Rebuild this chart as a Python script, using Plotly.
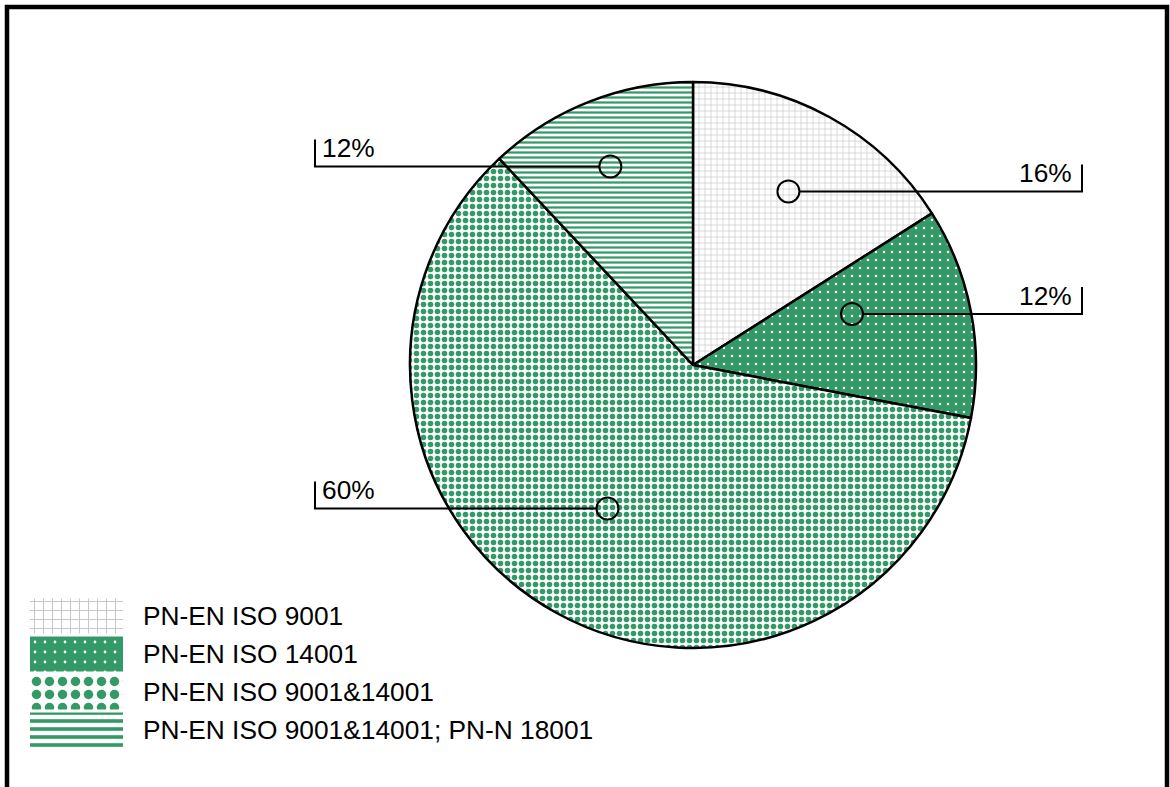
import math
import plotly.graph_objects as go

# ---------------- data ----------------
labels = ["PN-EN ISO 9001", "PN-EN ISO 14001", "PN-EN ISO 9001&14001",
          "PN-EN ISO 9001&14001; PN-N 18001"]
values = [16, 12, 60, 12]

# ---------------- style ----------------
W, H = 1170, 787
CX, CY, R = 693, 365, 283          # pie centre / radius in pixels
GREEN = "#339966"
FONT = "Arial, Liberation Sans, sans-serif"
FS = 26.3

pie_shape = ["+", ".", ".", "-"]
pie_fg = ["#c4c4c4", "#ffffff", GREEN, GREEN]
pie_bg = ["#ffffff", GREEN, "#ffffff", "#ffffff"]
pie_size = [6, 8, 7, 5]
pie_sol = [0.2, 0.08, 0.5, 0.45]

leg_size = [9, 10, 13, 8]
leg_sol = [0.2, 0.06, 0.42, 0.45]

anchor_r = [0.70, 0.59, 0.59, 0.76]
anchor_da = [0, -7, 2, -1]
LEFT_X, RIGHT_X, TICK_H, CIRC_R = 315, 1082, 27, 11


def px(x):
    return x / W


def py(y):
    return 1 - y / H


fig = go.Figure()

fig.add_trace(go.Pie(
    labels=labels, values=values, sort=False, direction="clockwise",
    rotation=0, textinfo="none", showlegend=False,
    domain=dict(x=[px(CX - R), px(CX + R)], y=[py(CY + R), py(CY - R)]),
    marker=dict(colors=pie_bg, line=dict(color="black", width=2.5),
                pattern=dict(shape=pie_shape, fgcolor=pie_fg, bgcolor=pie_bg,
                             size=pie_size, solidity=pie_sol, fillmode="replace")),
))

# legend swatches drawn as bars (one trace per entry)
for i, lab in enumerate(labels):
    fig.add_trace(go.Bar(
        y=[lab], x=[1], orientation="h", xaxis="x2", yaxis="y2",
        showlegend=False, hoverinfo="skip",
        marker=dict(color=pie_bg[i], line=dict(width=0),
                    pattern=dict(shape=pie_shape[i], fgcolor=pie_fg[i], bgcolor=pie_bg[i],
                                 size=leg_size[i], solidity=leg_sol[i], fillmode="replace")),
    ))

shapes = []
annotations = []

# frame
shapes.append(dict(type="rect", xref="paper", yref="paper",
                   x0=px(7), x1=px(1167), y0=py(810), y1=py(7),
                   line=dict(color="black", width=4.5), layer="above"))

total = sum(values)
cum = 0
for i, v in enumerate(values):
    mid = (cum + v / 2) / total * 360 + anchor_da[i]
    cum += v
    a = math.radians(mid)
    ax = CX + anchor_r[i] * R * math.sin(a)
    ay = CY - anchor_r[i] * R * math.cos(a)
    shapes.append(dict(type="circle", xref="paper", yref="paper",
                       x0=px(ax - CIRC_R), x1=px(ax + CIRC_R),
                       y0=py(ay + CIRC_R), y1=py(ay - CIRC_R),
                       line=dict(color="black", width=2)))
    txt = f"{round(v / total * 100)}%"
    if ax >= CX:
        shapes.append(dict(type="path", xref="paper", yref="paper",
                           path=f"M{px(ax + CIRC_R)},{py(ay)} L{px(RIGHT_X)},{py(ay)} L{px(RIGHT_X)},{py(ay - TICK_H)}",
                           line=dict(color="black", width=2)))
        annotations.append(dict(x=px(RIGHT_X - 8), y=py(ay - 1), xref="paper", yref="paper",
                                text=txt, showarrow=False, xanchor="right", yanchor="bottom",
                                font=dict(family=FONT, size=FS, color="black")))
    else:
        shapes.append(dict(type="path", xref="paper", yref="paper",
                           path=f"M{px(ax - CIRC_R)},{py(ay)} L{px(LEFT_X)},{py(ay)} L{px(LEFT_X)},{py(ay - TICK_H)}",
                           line=dict(color="black", width=2)))
        annotations.append(dict(x=px(LEFT_X + 5), y=py(ay - 1), xref="paper", yref="paper",
                                text=txt, showarrow=False, xanchor="left", yanchor="bottom",
                                font=dict(family=FONT, size=FS, color="black")))

for lab in labels:
    annotations.append(dict(x=px(141), y=lab, xref="paper", yref="y2", text=lab,
                            showarrow=False, xanchor="left", yanchor="middle",
                            font=dict(family=FONT, size=FS, color="black")))

fig.update_layout(
    width=W, height=H, margin=dict(l=0, r=0, t=0, b=0),
    paper_bgcolor="white", plot_bgcolor="rgba(0,0,0,0)",
    xaxis2=dict(domain=[px(30), px(123)], range=[0, 1], visible=False, anchor="y2"),
    yaxis2=dict(domain=[py(749), py(597)], autorange="reversed", visible=False,
                anchor="x2", type="category"),
    xaxis=dict(visible=False), yaxis=dict(visible=False),
    bargap=0.08, barmode="overlay", shapes=shapes, annotations=annotations,
)

fig.write_html("out.html", config={"displayModeBar": False},
               post_script="document.body.style.margin='0';document.body.style.overflow='hidden';")
